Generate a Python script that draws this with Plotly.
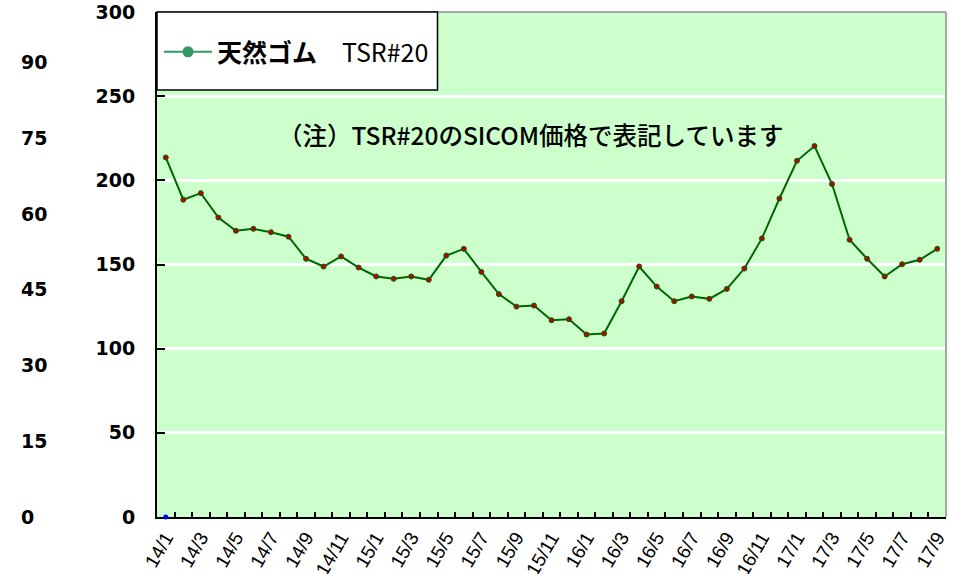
import plotly.graph_objects as go

# ---- data ----
months = [
    "14/1", "14/2", "14/3", "14/4", "14/5", "14/6", "14/7", "14/8", "14/9", "14/10", "14/11", "14/12",
    "15/1", "15/2", "15/3", "15/4", "15/5", "15/6", "15/7", "15/8", "15/9", "15/10", "15/11", "15/12",
    "16/1", "16/2", "16/3", "16/4", "16/5", "16/6", "16/7", "16/8", "16/9", "16/10", "16/11", "16/12",
    "17/1", "17/2", "17/3", "17/4", "17/5", "17/6", "17/7", "17/8", "17/9",
]
tsr20 = [
    213.6, 188.5, 192.4, 177.9, 170.0, 171.2, 169.2, 166.5, 153.4, 148.8, 154.8, 148.2,
    142.9, 141.5, 142.9, 140.9, 155.3, 159.3, 145.6, 132.4, 125.0, 125.6, 116.9, 117.5,
    108.4, 109.0, 128.2, 148.8, 136.9, 128.2, 131.0, 129.6, 135.5, 147.6, 165.5, 189.2,
    211.6, 220.4, 197.8, 164.7, 153.4, 142.9, 150.2, 152.8, 159.3,
]
second_x = ["14/1"]
second_y = [0]
left_ticks = [0, 50, 100, 150, 200, 250, 300]
right_ticks = [0, 15, 30, 45, 60, 75, 90]
series_name = "<b>天然ゴム</b>　TSR#20"
note_text = "（注）TSR#20のSICOM価格で表記しています"

tick_text = [m if i % 2 == 0 else "" for i, m in enumerate(months)]

# body margin is removed by post_script, so figure pixels == screen pixels
W, H = 954, 574
PLOT_L, PLOT_R, PLOT_T, PLOT_B = 157, 946, 12, 517
ML = 20
MR = W - PLOT_R
MT = PLOT_T
MB = H - PLOT_B
PW = W - ML - MR
PH = H - MT - MB
def px(xs):
    return (xs - ML) / PW
def py(ys):
    return (H - MB - ys) / PH

axis_font = dict(family="DejaVu Sans", size=19, color="#000000", weight="bold")

fig = go.Figure()

# main series (no legend)
fig.add_trace(go.Scatter(
    x=months, y=tsr20, mode="lines+markers", showlegend=False,
    line=dict(color="#006600", width=2),
    marker=dict(color="#c00000", size=5, line=dict(color="#006600", width=1)),
    cliponaxis=False,
))
# legend entry
fig.add_trace(go.Scatter(
    x=[None], y=[None], mode="lines+markers", name=series_name,
    line=dict(color="#339966", width=2),
    marker=dict(color="#339966", size=11),
))
# secondary series
fig.add_trace(go.Scatter(
    x=second_x, y=second_y, yaxis="y2", mode="markers", showlegend=False,
    marker=dict(color="#0000ff", size=5), cliponaxis=False,
))

fig.update_layout(
    width=W, height=H,
    margin=dict(l=ML, r=MR, t=MT, b=MB, autoexpand=False),
    paper_bgcolor="#ffffff",
    plot_bgcolor="#ccffcc",
    xaxis=dict(
        domain=[px(PLOT_L), 1.0],
        type="category", automargin=False,
        range=[-0.5, len(months) - 0.5],
        tickmode="array", tickvals=months, ticktext=tick_text,
        tickson="boundaries",
        ticks="inside", ticklen=5, tickwidth=1.5, tickcolor="#000000",
        tickangle=-60, ticklabeloverflow="allow",
        tickfont=dict(family="Liberation Sans Narrow, Liberation Sans", size=19, color="#000000"),
        showline=True, linecolor="#000000", linewidth=2,
        showgrid=False, zeroline=False, layer="below traces",
    ),
    yaxis=dict(
        range=[0, 300], automargin=False,
        tickvals=left_ticks,
        ticks="inside", ticklen=8, tickwidth=1.5, tickcolor="#000000",
        tickfont=axis_font, ticklabeloverflow="allow",
        ticklabelstandoff=16,
        showline=True, linecolor="#000000", linewidth=2,
        showgrid=True, gridcolor="#ffffff", gridwidth=3,
        zeroline=False, layer="below traces",
    ),
    yaxis2=dict(
        range=[0, 100], automargin=False,
        tickvals=right_ticks,
        overlaying="y", side="right", anchor="free", position=0,
        ticks="", showline=False, showgrid=False, zeroline=False,
        tickfont=axis_font, ticklabeloverflow="allow",
    ),
    legend=dict(
        x=px(159), y=py(52), xanchor="left", yanchor="middle",
        bgcolor="rgba(0,0,0,0)", borderwidth=0, itemwidth=48,
        font=dict(family="Noto Sans CJK JP", size=25, color="#000000"),
    ),
    shapes=[
        dict(type="line", xref="x domain", yref="y domain", x0=0, x1=1, y0=1, y1=1,
             line=dict(color="#a6a6a6", width=2), layer="above"),
        dict(type="line", xref="x domain", yref="y domain", x0=1, x1=1, y0=0, y1=1,
             line=dict(color="#a6a6a6", width=2), layer="above"),
        dict(type="rect", xref="paper", yref="paper",
             x0=px(157), x1=px(437.5), y0=py(90), y1=1.0,
             fillcolor="#ffffff", line=dict(color="#000000", width=1.5), layer="above"),
    ],
    annotations=[
        dict(text=note_text, xref="paper", yref="paper", x=px(530), y=py(134),
             xanchor="center", yanchor="middle", showarrow=False,
             font=dict(family="Noto Sans CJK JP", size=24.5, color="#000000", weight=500)),
    ],
)

fig.write_html("out.html", config={"displayModeBar": False},
               post_script="document.body.style.margin='0';")
